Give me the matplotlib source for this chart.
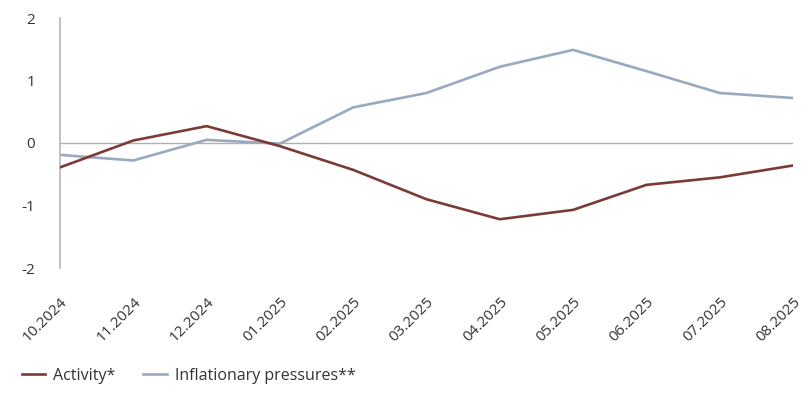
import matplotlib
matplotlib.use("Agg")
import matplotlib.pyplot as plt
import matplotlib.transforms as mtransforms

months = ["10.2024", "11.2024", "12.2024", "01.2025", "02.2025", "03.2025",
          "04.2025", "05.2025", "06.2025", "07.2025", "08.2025"]
activity = [-0.39, 0.04, 0.27, -0.05, -0.43, -0.90, -1.22, -1.07, -0.67, -0.55, -0.36]
inflation = [-0.19, -0.28, 0.05, -0.01, 0.57, 0.80, 1.22, 1.49, 1.15, 0.80, 0.72]

plt.rcParams['font.family'] = ['Open Sans', 'DejaVu Sans']

fig = plt.figure(figsize=(8.1, 3.93), dpi=100)
ax = fig.add_axes([60 / 810, 125 / 393, 733 / 810, 250 / 393])

x = range(len(months))
ax.plot(x, activity, color="#7b3b35", lw=1.9, label="Activity*", zorder=3)
ax.plot(x, inflation, color="#98a9c0", lw=1.9, label="Inflationary pressures**", zorder=2)
ax.axhline(0, color="#b0b0b0", lw=1, zorder=1)

ax.set_xlim(0, len(months) - 1)
ax.set_ylim(-2, 2)
ax.set_yticks([-2, -1, 0, 1, 2])
ax.set_yticklabels(["-2", "-1", "0", "1", "2"])
ax.set_xticks(list(x))
ax.set_xticklabels(months, rotation=45, ha="right", rotation_mode="anchor")

# nudge the rotated month labels a few pixels left
shift = mtransforms.ScaledTranslation(-4 / 100, 0, fig.dpi_scale_trans)
for lbl in ax.get_xticklabels():
    lbl.set_transform(lbl.get_transform() + shift)

for s in ["top", "right", "bottom"]:
    ax.spines[s].set_visible(False)
ax.spines["left"].set_color("#b8b8b8")
ax.spines["left"].set_linewidth(1.2)
ax.tick_params(axis="both", length=0, labelsize=11, colors="#333333")
ax.tick_params(axis="y", pad=18)
ax.tick_params(axis="x", pad=19)

fig.legend(loc="center left", bbox_to_anchor=(22 / 810, 1 - 376 / 393), ncol=2,
           frameon=False, fontsize=11.5, handlelength=1.45, columnspacing=1.75,
           handletextpad=0.5, borderpad=0, borderaxespad=0, labelcolor="#333333")

fig.savefig("out.png", dpi=100)
